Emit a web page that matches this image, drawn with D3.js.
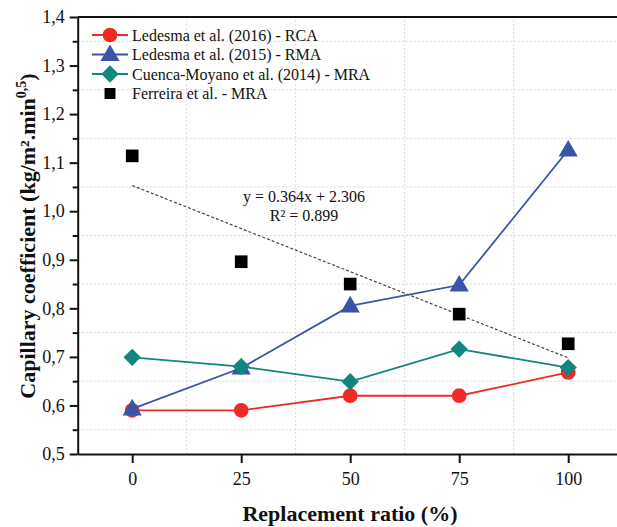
<!DOCTYPE html>
<html>
<head>
<meta charset="utf-8">
<script src="https://cdn.jsdelivr.net/npm/d3@7.9.0/dist/d3.min.js"></script>
<style>
  body { margin: 0; background: #fff; }
  svg { display: block; font-family: "Liberation Serif", "Times New Roman", serif; }
</style>
</head>
<body>
<svg width="617" height="527"></svg>
<script>
// replacement ratio (%)
const ratios = [0, 25, 50, 75, 100];
const rcaLedesma2016 = [0.59, 0.59, 0.62, 0.62, 0.668];
const rmaLedesma2015 = [0.593, 0.677, 0.805, 0.848, 1.126];
const mraCuenca2014 = [0.699, 0.68, 0.649, 0.716, 0.678];
const mraFerreira = [1.114, 0.896, 0.85, 0.788, 0.727];
// dashed trend line ends (x, y)
const trendX = [0, 100];
const trendY = [1.053, 0.698];
const yTicks = [0.5, 0.6, 0.7, 0.8, 0.9, 1.0, 1.1, 1.2, 1.3, 1.4];
const yMinor = [0.55, 0.65, 0.75, 0.85, 0.95, 1.05, 1.15, 1.25, 1.35];
const xGrid = [12.5, 37.5, 62.5, 87.5];

const svg = d3.select('svg');
const x = d3.scaleLinear().domain([-12.5, 112.5]).range([77.7, 622.7]);
const y = d3.scaleLinear().domain([0.5, 1.4]).range([454, 17]);

// grid
svg.append('g').selectAll('line').data(yMinor).join('line')
  .attr('x1', x(-12.5)).attr('x2', x(112.5))
  .attr('y1', d => y(d)).attr('y2', d => y(d))
  .attr('stroke', '#d8d8d8').attr('stroke-width', 1).attr('stroke-dasharray', '2,2');
svg.append('g').selectAll('line').data(xGrid).join('line')
  .attr('x1', d => x(d)).attr('x2', d => x(d))
  .attr('y1', y(0.5)).attr('y2', y(1.4))
  .attr('stroke', '#d8d8d8').attr('stroke-width', 1).attr('stroke-dasharray', '2,2');

// axes
const yAxis = svg.append('g').attr('transform', `translate(${x(-12.5)},0)`)
  .call(d3.axisLeft(y).tickValues(yTicks).tickSize(8).tickSizeOuter(0).tickPadding(5)
    .tickFormat(d => d3.format('.1f')(d).replace('.', ',')));
svg.append('g').attr('transform', `translate(${x(-12.5)},0)`)
  .call(d3.axisLeft(y).tickValues(yMinor).tickSize(5).tickFormat(''))
  .call(g => g.select('.domain').remove());
const xAxis = svg.append('g').attr('transform', `translate(0,${y(0.5)})`)
  .call(d3.axisBottom(x).tickValues(ratios).tickSize(9).tickSizeOuter(0).tickPadding(9));
[yAxis, xAxis].forEach(g => {
  g.attr('font-family', null);
  g.selectAll('text').attr('font-size', 18).attr('fill', '#111');
});
svg.selectAll('.domain, .tick line').attr('stroke', '#111').attr('stroke-width', 2);
// top frame
svg.append('line').attr('x1', x(-12.5)).attr('x2', x(112.5))
  .attr('y1', y(1.4)).attr('y2', y(1.4)).attr('stroke', '#111').attr('stroke-width', 2);

// trend line
svg.append('path')
  .attr('d', d3.line()(trendX.map((d, i) => [x(d), y(trendY[i])])))
  .attr('fill', 'none').attr('stroke', '#444').attr('stroke-width', 1.2)
  .attr('stroke-dasharray', '3,2');

const series = [
  { values: rcaLedesma2016, color: '#ee2a24', symbol: d3.symbolCircle, size: 170, rot: 0, dy: 0, line: true },
  { values: rmaLedesma2015, color: '#3a54a6', symbol: d3.symbolTriangle, size: 160, rot: 0, dy: 1, line: true },
  { values: mraCuenca2014, color: '#10877e', symbol: d3.symbolSquare, size: 150, rot: 45, dy: 0, line: true },
  { values: mraFerreira, color: '#000', symbol: d3.symbolSquare, size: 160, rot: 0, dy: 0, line: false }
];
const lineGen = d3.line();
series.forEach(s => {
  const pts = ratios.map((r, i) => [x(r), y(s.values[i])]);
  if (s.line) {
    svg.append('path').attr('d', lineGen(pts)).attr('fill', 'none')
      .attr('stroke', s.color).attr('stroke-width', 1.8);
  }
  svg.append('g').selectAll('path').data(pts).join('path')
    .attr('transform', d => `translate(${d[0]},${d[1] + s.dy}) rotate(${s.rot})`)
    .attr('d', d3.symbol(s.symbol, s.size)).attr('fill', s.color);
});

// equation
const eq = svg.append('text').attr('text-anchor', 'middle')
  .attr('font-size', 16).attr('fill', '#111');
eq.append('tspan').attr('x', 304).attr('y', 202).text('y = 0.364x + 2.306');
eq.append('tspan').attr('x', 304).attr('y', 221).text('R² = 0.899');

// legend
const legendLabels = ['Ledesma et al. (2016) - RCA', 'Ledesma et al. (2015) - RMA',
  'Cuenca-Moyano et al. (2014) - MRA', 'Ferreira et al. - MRA'];
const lg = svg.append('g');
series.forEach((s, i) => {
  const ly = 35 + i * 19.5;
  if (s.line) {
    lg.append('line').attr('x1', 92).attr('x2', 128).attr('y1', ly).attr('y2', ly)
      .attr('stroke', s.color).attr('stroke-width', 1.8);
  }
  lg.append('path').attr('transform', `translate(110,${ly + s.dy}) rotate(${s.rot})`)
    .attr('d', d3.symbol(s.symbol, s.line ? s.size : 120)).attr('fill', s.color);
  lg.append('text').attr('x', 132).attr('y', ly + 5.5).attr('font-size', 16)
    .attr('fill', '#111').text(legendLabels[i]);
});

// axis titles
svg.append('text').attr('x', 350).attr('y', 521).attr('text-anchor', 'middle')
  .attr('font-size', 22).attr('font-weight', 'bold').attr('fill', '#111')
  .text('Replacement ratio (%)');
const yt = svg.append('text').attr('transform', 'translate(35,236) rotate(-90)')
  .attr('text-anchor', 'middle').attr('font-size', 22).attr('font-weight', 'bold')
  .attr('fill', '#111');
yt.append('tspan').text('Capillary coefficient (kg/m².min');
yt.append('tspan').attr('font-size', 14).attr('dy', -9).text('0,5');
yt.append('tspan').attr('dy', 9).text(')');
</script>
</body>
</html>
